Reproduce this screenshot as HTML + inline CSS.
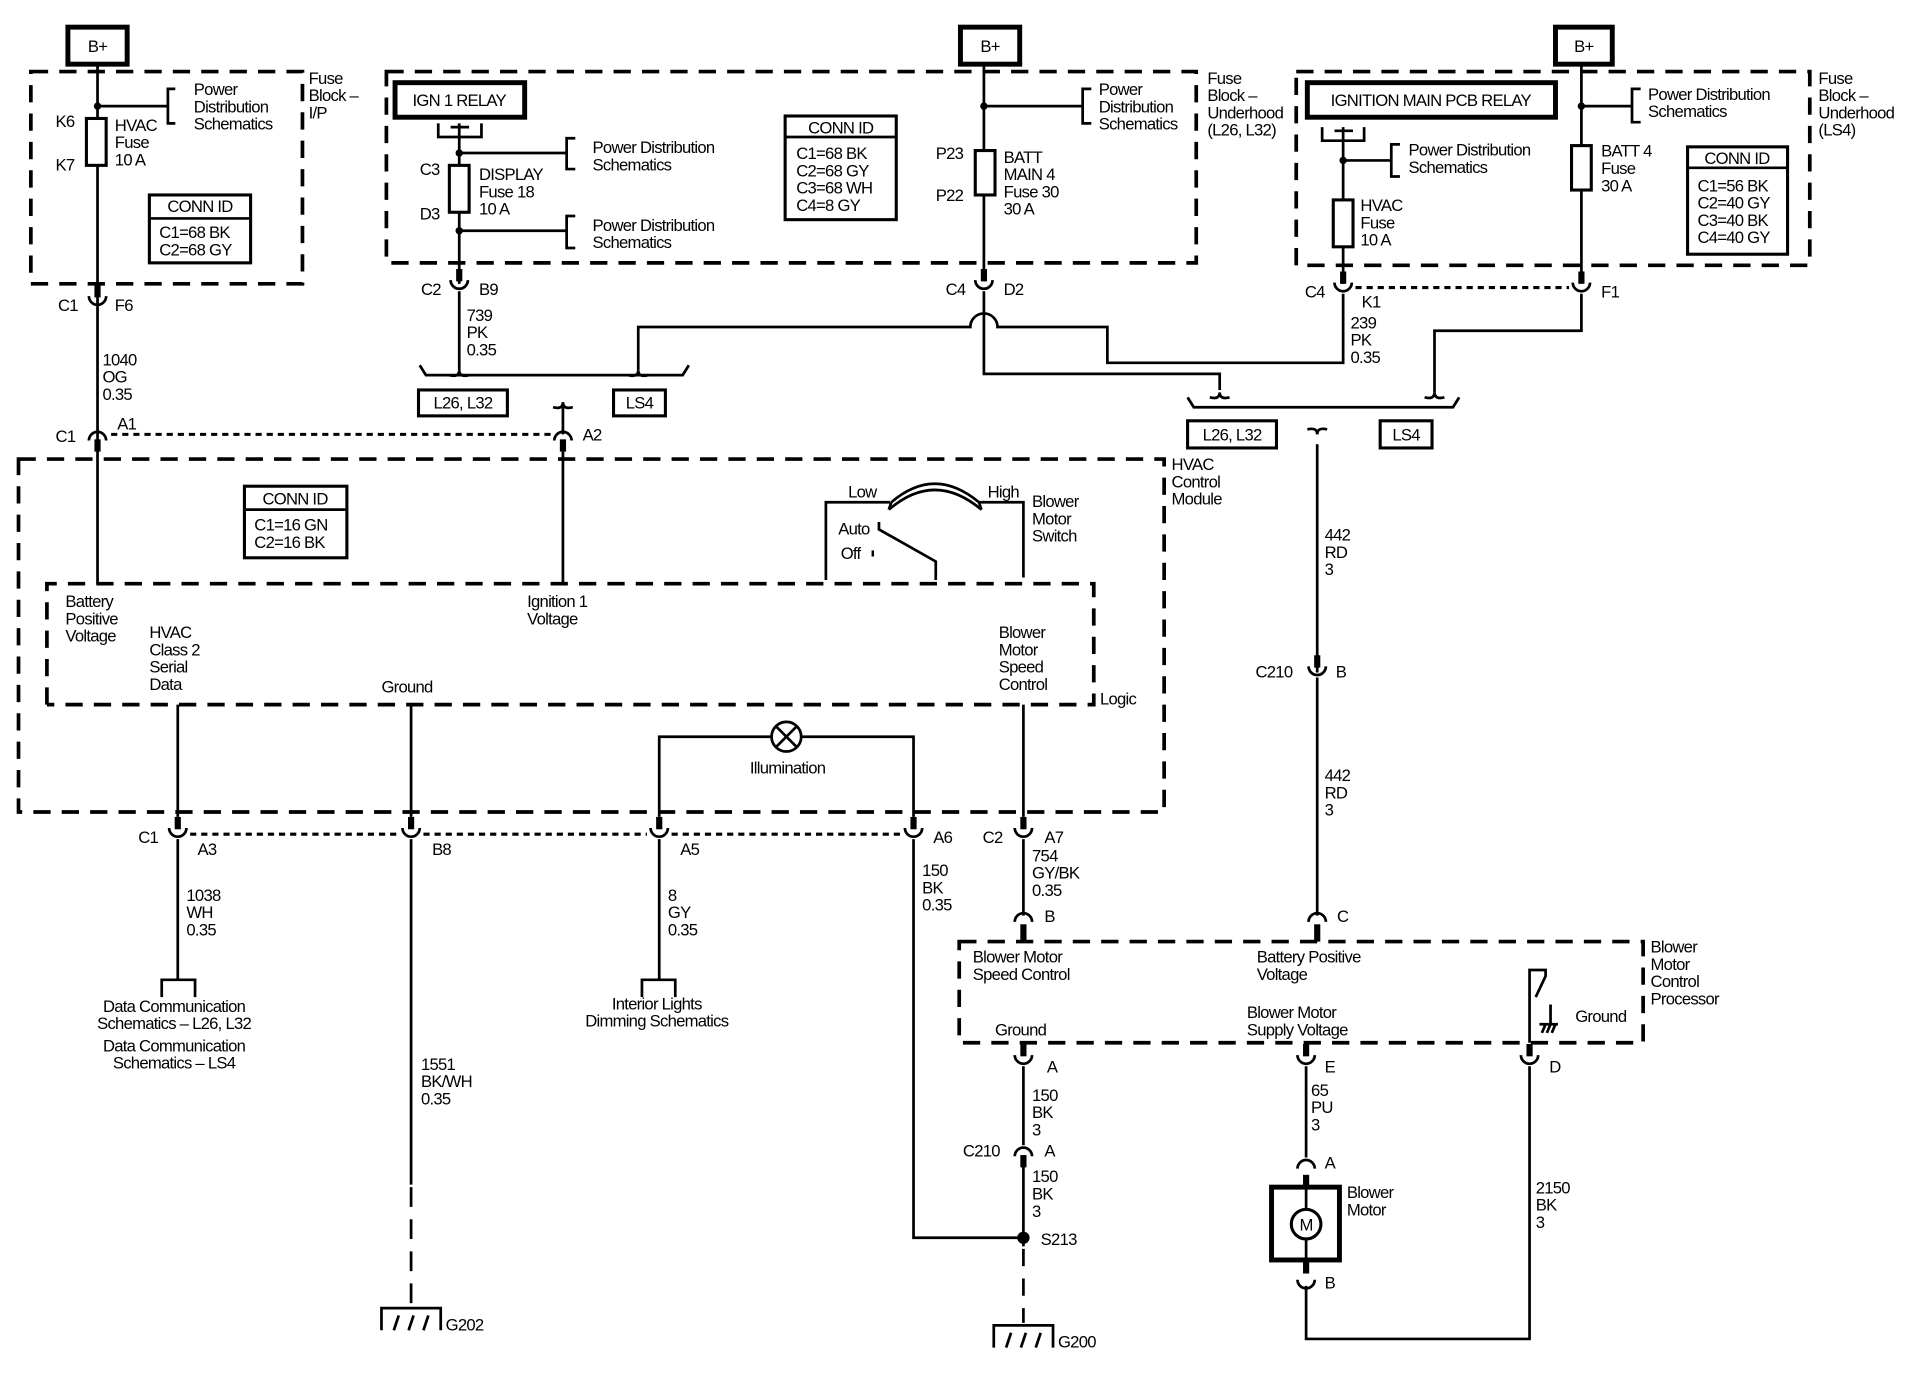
<!DOCTYPE html>
<html><head><meta charset="utf-8"><style>
html,body{margin:0;padding:0;background:#fff;}
svg{display:block;}
text{font-family:"Liberation Sans",sans-serif;font-size:13.5px;fill:#000;letter-spacing:-0.6px;}
.w{stroke:#000;stroke-width:2.2;fill:none;}
.d{stroke:#000;stroke-width:3;fill:none;stroke-dasharray:14 9;}
.dd{stroke:#000;stroke-width:2.5;fill:none;stroke-dasharray:5 4;}
.b{stroke:#000;stroke-width:4;fill:#fff;}
.bx{stroke:#000;stroke-width:2.5;fill:#fff;}
.st{stroke:#000;stroke-width:5;}
</style></head><body>
<svg width="1932" height="1392" viewBox="0 0 1565 1128" preserveAspectRatio="none" xmlns="http://www.w3.org/2000/svg">
<defs>
<g id="cd"><line x1="0" y1="-14" x2="0" y2="-4" class="st"/><path d="M-7,-5 A7,7 0 0 0 7,-5" class="w" stroke-width="2.8"/></g>
<g id="cu"><line x1="0" y1="14" x2="0" y2="4" class="st"/><path d="M-7,5 A7,7 0 0 1 7,5" class="w" stroke-width="2.8"/></g>
<g id="cdn"><path d="M-7,-5 A7,7 0 0 0 7,-5" class="w" stroke-width="2.8"/></g>
<g id="cun"><path d="M-7,5 A7,7 0 0 1 7,5" class="w" stroke-width="2.8"/></g>
<g id="gnd"><path d="M-24,18 V0 H24 V18" class="w" stroke-width="3"/><path d="M-14,18 L-10,6 M-2,18 L2,6 M10,18 L14,6" class="w"/></g>
<g id="tk"><path d="M-8,-4 Q0,-6 0,0 Q0,-6 8,-4" class="w"/></g>
</defs>

<!-- ================= LEFT FUSE BLOCK ================= -->
<rect x="55" y="22" width="48" height="30" class="b"/><text x="79" y="42" text-anchor="middle">B+</text>
<rect x="25" y="58" width="220" height="172" class="d"/>
<text x="250" y="68">Fuse</text><text x="250" y="82">Block –</text><text x="250" y="96">I/P</text>
<line x1="79" y1="52" x2="79" y2="473" class="w"/>
<circle cx="79" cy="86" r="3"/>
<line x1="79" y1="86" x2="136" y2="86" class="w"/>
<path d="M142,72 H136 V100 H142" class="w"/>
<text x="157" y="77">Power</text><text x="157" y="91">Distribution</text><text x="157" y="105">Schematics</text>
<rect x="70" y="96" width="16" height="38" class="bx"/>
<text x="45" y="103">K6</text><text x="45" y="138">K7</text>
<text x="93" y="106">HVAC</text><text x="93" y="120">Fuse</text><text x="93" y="134">10 A</text>
<rect x="121" y="158" width="82" height="55" class="bx"/><line x1="121" y1="177" x2="203" y2="177" class="w" stroke-width="2.5"/>
<text x="162" y="172" text-anchor="middle">CONN ID</text><text x="129" y="193">C1=68 BK</text><text x="129" y="207">C2=68 GY</text>
<use href="#cd" x="79" y="245"/>
<text x="47" y="252">C1</text><text x="93" y="252">F6</text>
<text x="83" y="296">1040</text><text x="83" y="310">OG</text><text x="83" y="324">0.35</text>
<use href="#cu" x="79" y="352"/>
<text x="45" y="358">C1</text><text x="95" y="348">A1</text>
<line x1="90" y1="352" x2="446" y2="352" class="dd"/>
<use href="#cu" x="456" y="352"/>
<line x1="456" y1="326" x2="456" y2="352" class="w"/><use href="#tk" x="456" y="326" transform="rotate(180 456 326)"/>
<text x="472" y="357">A2</text>

<!-- ================= MIDDLE FUSE BLOCK ================= -->
<rect x="313" y="58" width="656" height="155" class="d"/>
<text x="978" y="68">Fuse</text><text x="978" y="82">Block –</text><text x="978" y="96">Underhood</text><text x="978" y="110">(L26, L32)</text>
<rect x="320" y="67" width="105" height="28" class="b"/><text x="372" y="86" text-anchor="middle">IGN 1 RELAY</text>
<path d="M355,100 V111 H390 V100 M365,103 H380" class="w"/>
<line x1="372" y1="100" x2="372" y2="230" class="w"/>
<circle cx="372" cy="124" r="3"/><line x1="372" y1="124" x2="459" y2="124" class="w"/>
<path d="M466,112 H459 V137 H466" class="w"/>
<text x="480" y="124">Power Distribution</text><text x="480" y="138">Schematics</text>
<rect x="364" y="134" width="16" height="38" class="bx"/>
<text x="340" y="142">C3</text><text x="340" y="178">D3</text>
<text x="388" y="146">DISPLAY</text><text x="388" y="160">Fuse 18</text><text x="388" y="174">10 A</text>
<circle cx="372" cy="187" r="3"/><line x1="372" y1="187" x2="459" y2="187" class="w"/>
<path d="M466,175 H459 V201 H466" class="w"/>
<text x="480" y="187">Power Distribution</text><text x="480" y="201">Schematics</text>
<rect x="636" y="94" width="90" height="84" class="bx"/><line x1="636" y1="111" x2="726" y2="111" class="w" stroke-width="2.5"/>
<text x="681" y="108" text-anchor="middle">CONN ID</text>
<text x="645" y="129">C1=68 BK</text><text x="645" y="143">C2=68 GY</text><text x="645" y="157">C3=68 WH</text><text x="645" y="171">C4=8 GY</text>
<rect x="778" y="22" width="48" height="30" class="b"/><text x="802" y="42" text-anchor="middle">B+</text>
<line x1="797" y1="52" x2="797" y2="228" class="w"/>
<circle cx="797" cy="86" r="3"/><line x1="797" y1="86" x2="877" y2="86" class="w"/>
<path d="M884,72 H877 V100 H884" class="w"/>
<text x="890" y="77">Power</text><text x="890" y="91">Distribution</text><text x="890" y="105">Schematics</text>
<rect x="790" y="122" width="16" height="36" class="bx"/>
<text x="758" y="129">P23</text><text x="758" y="163">P22</text>
<text x="813" y="132">BATT</text><text x="813" y="146">MAIN 4</text><text x="813" y="160">Fuse 30</text><text x="813" y="174">30 A</text>
<use href="#cd" x="372" y="232"/><use href="#cd" x="797" y="232"/>
<text x="341" y="239">C2</text><text x="388" y="239">B9</text>
<text x="766" y="239">C4</text><text x="813" y="239">D2</text>
<line x1="372" y1="236" x2="372" y2="300" class="w"/>
<text x="378" y="260">739</text><text x="378" y="274">PK</text><text x="378" y="288">0.35</text>
<use href="#tk" x="372" y="300" transform="rotate(180 372 300)"/>
<path d="M340,296 L345,304 H553 L558,296" class="w"/>
<use href="#tk" x="517" y="300" transform="rotate(180 517 300)"/>
<path d="M517,300 V265 H786 A11,11 0 0 1 808,265 H897 V294 H1088 V238" class="w"/>
<rect x="339" y="316" width="72" height="21" class="bx"/><text x="375" y="331" text-anchor="middle">L26, L32</text>
<rect x="497" y="316" width="42" height="21" class="bx"/><text x="518" y="331" text-anchor="middle">LS4</text>

<!-- ================= RIGHT FUSE BLOCK ================= -->
<rect x="1050" y="58" width="416" height="157" class="d"/>
<text x="1473" y="68">Fuse</text><text x="1473" y="82">Block –</text><text x="1473" y="96">Underhood</text><text x="1473" y="110">(LS4)</text>
<rect x="1059" y="67" width="201" height="28" class="b"/><text x="1159" y="86" text-anchor="middle">IGNITION MAIN PCB RELAY</text>
<path d="M1071,103 V114 H1105 V103 M1081,106 H1096" class="w"/>
<line x1="1088" y1="103" x2="1088" y2="230" class="w"/>
<circle cx="1088" cy="130" r="3"/><line x1="1088" y1="130" x2="1127" y2="130" class="w"/>
<path d="M1134,117 H1127 V143 H1134" class="w"/>
<text x="1141" y="126">Power Distribution</text><text x="1141" y="140">Schematics</text>
<rect x="1080" y="162" width="16" height="38" class="bx"/>
<text x="1102" y="171">HVAC</text><text x="1102" y="185">Fuse</text><text x="1102" y="199">10 A</text>
<rect x="1260" y="22" width="46" height="30" class="b"/><text x="1283" y="42" text-anchor="middle">B+</text>
<line x1="1281" y1="52" x2="1281" y2="228" class="w"/>
<circle cx="1281" cy="86" r="3"/><line x1="1281" y1="86" x2="1322" y2="86" class="w"/>
<path d="M1329,72 H1322 V99 H1329" class="w"/>
<text x="1335" y="81">Power Distribution</text><text x="1335" y="95">Schematics</text>
<rect x="1273" y="118" width="16" height="36" class="bx"/>
<text x="1297" y="127">BATT 4</text><text x="1297" y="141">Fuse</text><text x="1297" y="155">30 A</text>
<rect x="1367" y="119" width="81" height="87" class="bx"/><line x1="1367" y1="136" x2="1448" y2="136" class="w" stroke-width="2.5"/>
<text x="1407" y="133" text-anchor="middle">CONN ID</text>
<text x="1375" y="155">C1=56 BK</text><text x="1375" y="169">C2=40 GY</text><text x="1375" y="183">C3=40 BK</text><text x="1375" y="197">C4=40 GY</text>
<use href="#cd" x="1088" y="234"/><use href="#cd" x="1281" y="234"/>
<line x1="1098" y1="233" x2="1271" y2="233" class="dd"/>
<text x="1057" y="241">C4</text><text x="1103" y="249">K1</text><text x="1297" y="241">F1</text>
<text x="1094" y="266">239</text><text x="1094" y="280">PK</text><text x="1094" y="294">0.35</text>
<path d="M797,236 V303 H988 V316" class="w"/>
<use href="#tk" x="988" y="318" transform="rotate(180 988 318)"/>
<path d="M1281,238 V268 H1162 V318" class="w"/>
<use href="#tk" x="1162" y="318" transform="rotate(180 1162 318)"/>
<path d="M962,322 L967,330 H1177 L1182,322" class="w"/>
<rect x="962" y="341" width="72" height="22" class="bx"/><text x="998" y="357" text-anchor="middle">L26, L32</text>
<rect x="1118" y="341" width="42" height="22" class="bx"/><text x="1139" y="357" text-anchor="middle">LS4</text>
<use href="#tk" x="1067" y="352"/>

<!-- ================= HVAC CONTROL MODULE ================= -->
<rect x="15" y="372" width="928" height="286" class="d"/>
<text x="949" y="381">HVAC</text><text x="949" y="395">Control</text><text x="949" y="409">Module</text>
<rect x="198" y="394" width="83" height="58" class="bx"/><line x1="198" y1="413" x2="281" y2="413" class="w" stroke-width="2.5"/>
<text x="239" y="409" text-anchor="middle">CONN ID</text><text x="206" y="430">C1=16 GN</text><text x="206" y="444">C2=16 BK</text>
<line x1="456" y1="366" x2="456" y2="473" class="w"/>
<path d="M38,571 V473 H886 V571 H38" class="d" stroke-width="2.5"/>
<text x="891" y="571">Logic</text>
<text x="53" y="492">Battery</text><text x="53" y="506">Positive</text><text x="53" y="520">Voltage</text>
<text x="121" y="517">HVAC</text><text x="121" y="531">Class 2</text><text x="121" y="545">Serial</text><text x="121" y="559">Data</text>
<text x="309" y="561">Ground</text>
<text x="427" y="492">Ignition 1</text><text x="427" y="506">Voltage</text>
<text x="809" y="517">Blower</text><text x="809" y="531">Motor</text><text x="809" y="545">Speed</text><text x="809" y="559">Control</text>
<!-- switch -->
<path d="M669,470 V407 H721 M793,407 H829 V468" class="w"/>
<path d="M720,413 Q757,381 795,413" class="w" stroke-width="2"/>
<path d="M722,407 Q757,377 793,407" class="w" stroke-width="2"/>
<path d="M720,413 L722,407 M795,413 L793,407" class="w" stroke-width="2"/>
<text x="687" y="403">Low</text><text x="800" y="403">High</text>
<text x="836" y="411">Blower</text><text x="836" y="425">Motor</text><text x="836" y="439">Switch</text>
<text x="679" y="433">Auto</text><text x="681" y="453">Off</text>
<rect x="706" y="446" width="2" height="5"/>
<path d="M712,423 V429 L758,455 V470" class="w"/>
<line x1="144" y1="571" x2="144" y2="662" class="w"/>
<line x1="333" y1="571" x2="333" y2="662" class="w"/>
<line x1="829" y1="571" x2="829" y2="662" class="w"/>
<circle cx="637" cy="597" r="12" class="w"/>
<path d="M629,589 L645,605 M645,589 L629,605" class="w"/>
<path d="M534,662 V597 H625 M649,597 H740 V662" class="w"/>
<text x="638" y="627" text-anchor="middle">Illumination</text>
<use href="#cd" x="144" y="676"/><use href="#cd" x="333" y="676"/><use href="#cd" x="534" y="676"/><use href="#cd" x="740" y="676"/><use href="#cd" x="829" y="676"/>
<line x1="154" y1="676" x2="323" y2="676" class="dd"/><line x1="343" y1="676" x2="524" y2="676" class="dd"/><line x1="544" y1="676" x2="730" y2="676" class="dd"/>
<text x="112" y="683">C1</text><text x="160" y="693">A3</text><text x="350" y="693">B8</text><text x="551" y="693">A5</text>
<text x="756" y="683">A6</text><text x="796" y="683">C2</text><text x="846" y="683">A7</text>
<line x1="144" y1="680" x2="144" y2="793" class="w"/>
<path d="M131,808 V794 H158 V808" class="w" stroke-width="2.5"/>
<text x="151" y="730">1038</text><text x="151" y="744">WH</text><text x="151" y="758">0.35</text>
<text x="141" y="820" text-anchor="middle">Data Communication</text><text x="141" y="834" text-anchor="middle">Schematics – L26, L32</text>
<text x="141" y="852" text-anchor="middle">Data Communication</text><text x="141" y="866" text-anchor="middle">Schematics – LS4</text>
<line x1="534" y1="680" x2="534" y2="793" class="w"/>
<path d="M520,808 V794 H547 V808" class="w" stroke-width="2.5"/>
<text x="541" y="730">8</text><text x="541" y="744">GY</text><text x="541" y="758">0.35</text>
<text x="532" y="818" text-anchor="middle">Interior Lights</text><text x="532" y="832" text-anchor="middle">Dimming Schematics</text>
<line x1="333" y1="680" x2="333" y2="960" class="w"/>
<line x1="333" y1="962" x2="333" y2="1058" class="w" stroke-dasharray="16 10"/>
<text x="341" y="867">1551</text><text x="341" y="881">BK/WH</text><text x="341" y="895">0.35</text>
<use href="#gnd" x="333" y="1060"/><text x="361" y="1078">G202</text>
<path d="M740,680 V1003 H829" class="w" stroke-width="2.5"/>
<text x="747" y="710">150</text><text x="747" y="724">BK</text><text x="747" y="738">0.35</text>
<line x1="829" y1="680" x2="829" y2="742" class="w"/>
<text x="836" y="698">754</text><text x="836" y="712">GY/BK</text><text x="836" y="726">0.35</text>
<use href="#cun" x="829" y="742"/><text x="846" y="747">B</text>

<!-- ================= BLOWER MOTOR CONTROL PROCESSOR ================= -->
<line x1="829" y1="749" x2="829" y2="763" class="st"/>
<line x1="1067" y1="749" x2="1067" y2="763" class="st"/>
<rect x="777" y="763" width="554" height="82" class="d"/>
<text x="1337" y="772">Blower</text><text x="1337" y="786">Motor</text><text x="1337" y="800">Control</text><text x="1337" y="814">Processor</text>
<text x="788" y="780">Blower Motor</text><text x="788" y="794">Speed Control</text>
<text x="806" y="839">Ground</text>
<text x="1018" y="780">Battery Positive</text><text x="1018" y="794">Voltage</text>
<text x="1010" y="825">Blower Motor</text><text x="1010" y="839">Supply Voltage</text>
<text x="1276" y="828">Ground</text>
<path d="M1239,845 V786 H1252 V791 L1244,808" class="w"/>
<path d="M1256,814 V830 M1247,830 H1262 M1249,837 L1252,830 M1253,837 L1256,830 M1257,837 L1260,830" class="w" stroke-width="1.8"/>
<line x1="1067" y1="360" x2="1067" y2="545" class="w"/>
<text x="1073" y="438">442</text><text x="1073" y="452">RD</text><text x="1073" y="466">3</text>
<use href="#cd" x="1067" y="545"/>
<text x="1017" y="549">C210</text><text x="1082" y="549">B</text>
<line x1="1067" y1="549" x2="1067" y2="742" class="w"/>
<text x="1073" y="633">442</text><text x="1073" y="647">RD</text><text x="1073" y="661">3</text>
<use href="#cun" x="1067" y="742"/><text x="1083" y="747">C</text>
<use href="#cd" x="829" y="860"/><use href="#cd" x="1058" y="860"/><use href="#cd" x="1239" y="860"/>
<text x="848" y="869">A</text><text x="1073" y="869">E</text><text x="1255" y="869">D</text>
<line x1="829" y1="864" x2="829" y2="928" class="w"/>
<text x="836" y="892">150</text><text x="836" y="906">BK</text><text x="836" y="920">3</text>
<use href="#cu" x="829" y="932"/>
<text x="780" y="937">C210</text><text x="846" y="937">A</text>
<line x1="829" y1="940" x2="829" y2="1010" class="w"/>
<text x="836" y="958">150</text><text x="836" y="972">BK</text><text x="836" y="986">3</text>
<circle cx="829" cy="1003" r="5"/><text x="843" y="1009">S213</text>
<line x1="829" y1="1012" x2="829" y2="1072" class="w" stroke-width="2.5" stroke-dasharray="14 10"/>
<use href="#gnd" x="829" y="1074"/><text x="857" y="1092">G200</text>
<line x1="1058" y1="864" x2="1058" y2="938" class="w"/>
<text x="1062" y="888">65</text><text x="1062" y="902">PU</text><text x="1062" y="916">3</text>
<use href="#cun" x="1058" y="942"/><text x="1073" y="947">A</text>
<line x1="1058" y1="952" x2="1058" y2="962" class="st"/>
<rect x="1030" y="962" width="55" height="59" class="b" stroke-width="3"/>
<line x1="1058" y1="962" x2="1058" y2="1021" class="w"/>
<circle cx="1058" cy="992" r="12" class="bx"/><text x="1058" y="997" text-anchor="middle" font-size="12">M</text>
<text x="1091" y="971">Blower</text><text x="1091" y="985">Motor</text>
<line x1="1058" y1="1021" x2="1058" y2="1032" class="st"/>
<use href="#cdn" x="1058" y="1042"/><text x="1073" y="1044">B</text>
<path d="M1058,1042 V1085 H1239 V864" class="w"/>
<text x="1244" y="967">2150</text><text x="1244" y="981">BK</text><text x="1244" y="995">3</text>
</svg>
</body></html>
